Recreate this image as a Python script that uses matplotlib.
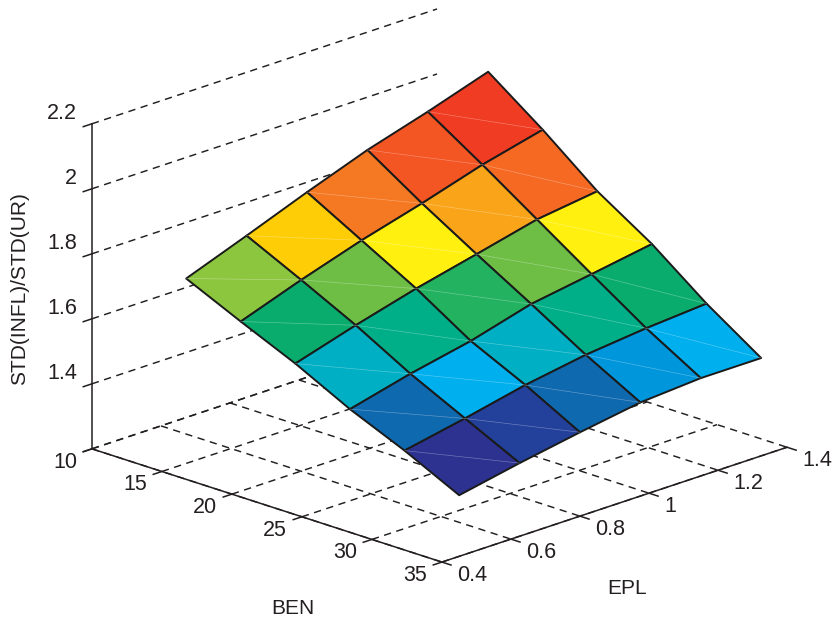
import numpy as np
import matplotlib
matplotlib.use('Agg')
import matplotlib.pyplot as plt
from matplotlib.colors import ListedColormap, BoundaryNorm
from mpl_toolkits.mplot3d import proj3d

plt.rcParams['font.family'] = ['Liberation Sans', 'DejaVu Sans']

# Dados
ben = [15.5, 19.4, 23.3, 27.2, 31.1, 35.0]
epl = [0.45, 0.625, 0.8, 0.975, 1.15, 1.325]
razao_z = [
    [1.783, 1.705, 1.630, 1.544, 1.471, 1.388],
    [1.853, 1.771, 1.686, 1.591, 1.508, 1.425],
    [1.925, 1.831, 1.737, 1.630, 1.549, 1.458],
    [1.993, 1.883, 1.781, 1.682, 1.580, 1.488],
    [2.049, 1.940, 1.826, 1.712, 1.600, 1.501],
    [2.110, 1.986, 1.851, 1.743, 1.614, 1.501],
]

ben_ticks = [10, 15, 20, 25, 30, 35]
epl_ticks = [0.4, 0.6, 0.8, 1.0, 1.2, 1.4]
epl_labels = ['0.4', '0.6', '0.8', '1', '1.2', '1.4']
z_ticks = [1.2, 1.4, 1.6, 1.8, 2.0, 2.2]
z_labels = ['', '1.4', '1.6', '1.8', '2', '2.2']

# Paleta da impressao (jet em CMYK)
cores = ['#2d3291', '#23419b', '#0f69af', '#0096dc', '#00afee', '#00afc3',
         '#00af87', '#0aac6e', '#23b25f', '#6ebe46', '#8cc63f', '#fff00f',
         '#ffcd05', '#faa519', '#f57823', '#f56923', '#f35523', '#f03c23']
limites = [1.45, 1.49, 1.53, 1.565, 1.585, 1.61, 1.66, 1.70, 1.725, 1.76,
           1.782, 1.80, 1.84, 1.87, 1.90, 1.93, 1.96, 2.02, 2.10]
cor_texto = '#231f20'

fig = plt.figure(figsize=(8.32, 6.19), dpi=100)
lado = 753
ax = fig.add_axes([52.8 / 832, -53.2 / 619, lado / 832, lado / 619],
                  projection='3d', proj_type='ortho', computed_zorder=False)
ax.view_init(elev=19.15, azim=-45.4)
ax.set_xlim(10, 35)
ax.set_ylim(0.4, 1.4)
ax.set_zlim(1.2, 2.2)
ax.set_box_aspect((1, 1, 0.7))
ax.set_xticks([])
ax.set_yticks([])
ax.set_zticks([])
ax.set_axis_off()
ax.apply_aspect()


# Texto em pixels a partir de um ponto 3D projetado
def rotulo(x, y, z, dx, dy, texto, ha='center'):
    px, py, _ = proj3d.proj_transform(x, y, z, ax.get_proj())
    pos = ax.transData.transform((px, py))
    fig.text((pos[0] + dx) / 832, (pos[1] + dy) / 619, texto, ha=ha,
             va='center', fontsize=15.5, color=cor_texto)


estilo = dict(color=cor_texto, linewidth=1.05, linestyle=(0, (5, 3.8)), zorder=1)
eixo = dict(color=cor_texto, linewidth=1.1, zorder=1)

# Grade do chao e da parede
for b in ben_ticks:
    ax.plot([b, b], [0.4, 1.4], [1.2, 1.2], **estilo)
for e in epl_ticks:
    ax.plot([10, 35], [e, e], [1.2, 1.2], **estilo)
for z in z_ticks:
    ax.plot([10, 10], [0.4, 1.4], [z, z], **estilo)

# Eixos e marcas
ax.plot([10, 35], [0.4, 0.4], [1.2, 1.2], **eixo)
ax.plot([35, 35], [0.4, 1.4], [1.2, 1.2], **eixo)
ax.plot([10, 10], [0.4, 0.4], [1.2, 2.2], **eixo)
for b in ben_ticks:
    ax.plot([b, b], [0.4, 0.375], [1.2, 1.2], **eixo)
    rotulo(b, 0.4, 1.2, -15, -13.5, str(b), ha='right')
for e, txt in zip(epl_ticks, epl_labels):
    ax.plot([35, 35.65], [e, e], [1.2, 1.2], **eixo)
    rotulo(35, e, 1.2, 15, -13, txt, ha='left')
for z, txt in zip(z_ticks, z_labels):
    ax.plot([10, 10], [0.4, 0.375], [z, z], **eixo)
    if txt:
        rotulo(10, 0.4, z, -15, 10, txt, ha='right')

# Superficie: cor plana pelo canto de menor indice, como no MATLAB
X, Y = np.meshgrid(ben, epl)
Z = np.array(razao_z)
cmap = ListedColormap(cores)
norm = BoundaryNorm(limites, cmap.N)
sup = ax.plot_surface(X, Y, Z, facecolors=cmap(norm(Z)), rstride=1, cstride=1,
                      shade=False, zorder=2)
sup.set_edgecolor('#1a1a1a')
sup.set_linewidth(1.4)

# Diagonais claras deixadas pela triangulacao
for j in range(len(epl) - 1):
    for i in range(len(ben) - 1):
        ax.plot([ben[i], ben[i + 1]], [epl[j], epl[j + 1]],
                [razao_z[j][i], razao_z[j + 1][i + 1]],
                color='white', linewidth=0.45, alpha=0.35, zorder=3)

fig.text(293 / 832, 1 - 608 / 619, 'BEN', ha='center', va='center',
         fontsize=15, color=cor_texto)
fig.text(627 / 832, 1 - 589 / 619, 'EPL', ha='center', va='center',
         fontsize=15, color=cor_texto)
fig.text(20 / 832, 1 - 289 / 619, 'STD(INFL)/STD(UR)', rotation=90,
         ha='center', va='center', fontsize=15, color=cor_texto)

fig.savefig('out.png', dpi=100)
